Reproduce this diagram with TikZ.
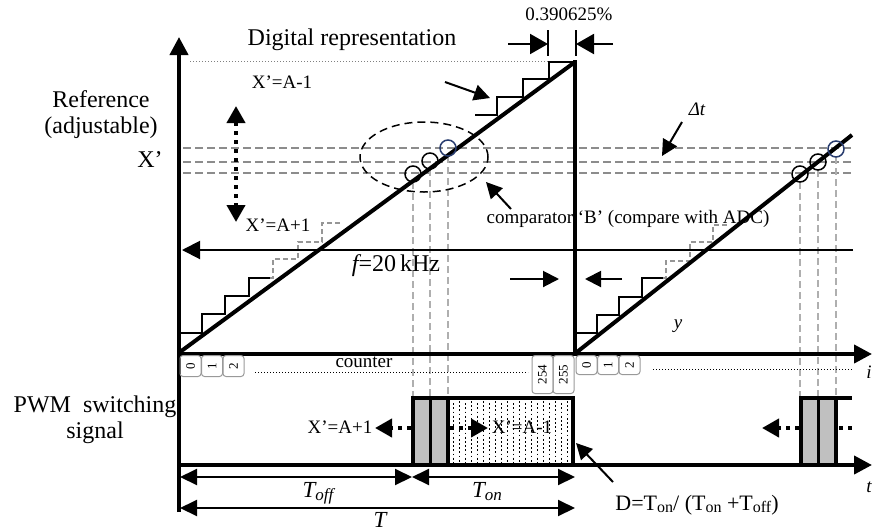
\documentclass[tikz,border=0pt]{standalone}
\usepackage{fontspec}
\setmainfont{Liberation Serif}
\usetikzlibrary{arrows.meta}
\definecolor{guidegray}{RGB}{140,140,140}
\definecolor{vgray}{RGB}{175,175,175}
\definecolor{stairgray}{RGB}{150,150,150}
\definecolor{circblue}{RGB}{40,60,110}
\definecolor{barfill}{RGB}{192,192,192}
\begin{document}
\begin{tikzpicture}[x=1pt,y=-1pt,
  axisline/.style={line width=4pt},
  rampline/.style={line width=4pt},
  stairline/.style={line width=2pt},
  ghoststair/.style={line width=1.5pt, stairgray, dash pattern=on 5pt off 3pt},
  xguide/.style={line width=1.5pt, guidegray, dash pattern=on 8pt off 4pt},
  vguide/.style={line width=1.2pt, vgray, dash pattern=on 7pt off 4pt},
  bigtip/.style={-{Triangle[length=18pt,width=18pt]}},
  midtip/.style={-{Triangle[length=16pt,width=16pt]}},
  twotip/.style={{Triangle[length=17pt,width=16pt]}-{Triangle[length=17pt,width=16pt]}},
  dotarrow/.style={line width=4pt, dash pattern=on 4pt off 5pt},
  ring/.style={line width=1.5pt},
  lbl/.style={inner sep=0pt, anchor=base, font=\fontsize{19}{22}\selectfont},
  biglbl/.style={inner sep=0pt, anchor=base, font=\fontsize{24}{28}\selectfont},
  cbox/.style={draw=gray!80, line width=1pt, rounded corners=3pt, inner sep=0pt,
    rotate=90, anchor=east, font=\fontsize{13}{13}\selectfont, minimum height=21pt}
]
\useasboundingbox (0,0) rectangle (873,531);

% ---------- PWM pulse fills ----------
\fill[barfill] (413,398) rectangle (430,465);
\fill[barfill] (430,398) rectangle (448,465);
\foreach \xx [count=\i] in {453,459,...,570}
  \draw[line width=0.6pt, dash pattern=on 1.8pt off 2.4pt, dash phase={mod(\i,2)*2.1pt}] (\xx,401) -- (\xx,462);
\fill[barfill] (801,398) rectangle (818,465);
\fill[barfill] (818,398) rectangle (836,465);

% ---------- X' guide lines ----------
\foreach \yy in {148,162,173}
  \draw[xguide] (183,\yy) -- (853,\yy);

% ---------- vertical guides ----------
\foreach \xx/\yy in {413/174,430/161,448/148,800/174,818/162,836/149}
  \draw[vguide] (\xx,\yy+8) -- (\xx,398);

% ---------- top dotted line ----------
\draw[line width=1pt, gray, dash pattern=on 1.2pt off 1.8pt] (190,61) -- (548,61);

% ---------- staircases ----------
\draw[stairline] (180,333) -- (202,333) -- (202,314) -- (225,314) -- (225,296) -- (249,296) -- (249,278) -- (270,278);
\draw[ghoststair] (270,278) -- (273,278) -- (273,259) -- (298,259) -- (298,242) -- (322,242) -- (322,223) -- (342,223);
\draw[stairline] (475,115) -- (497,115) -- (497,97) -- (523,97) -- (523,79) -- (549,79) -- (549,62) -- (575,62);
\draw[stairline] (577,333) -- (597,333) -- (597,315) -- (619,315) -- (619,297) -- (642,297) -- (642,278) -- (663,278);
\draw[ghoststair] (663,278) -- (666,278) -- (666,261) -- (690,261) -- (690,242) -- (713,242) -- (713,225) -- (727,225);

% ---------- ramps ----------
\coordinate (r1a) at (180,352);
\coordinate (r1b) at (575,62);
\coordinate (r1c) at (575,354);
\coordinate (r2a) at (577,352);
\coordinate (r2b) at (852,135);
\draw[rampline] (r1a) -- (r1b);
\draw[axisline] (575,60) -- (r1c);
\draw[rampline] (r2a) -- (r2b);

% ---------- comparator circles ----------
\draw[ring] (413,174) circle[radius=8pt];
\draw[ring] (430,161) circle[radius=8pt];
\draw[ring, circblue] (448,148) circle[radius=8pt];
\draw[ring] (800,174) circle[radius=8pt];
\draw[ring] (818,162) circle[radius=8pt];
\draw[ring, circblue] (836,149) circle[radius=8pt];
\draw[line width=1.5pt, dash pattern=on 8pt off 5pt] (424,157) ellipse [x radius=64pt, y radius=35pt];

% ---------- axes ----------
\coordinate (vbot) at (179,512);
\coordinate (vtop) at (179,37);
\coordinate (cstart) at (177,354);
\coordinate (cend) at (872,354);
\coordinate (pstart) at (177,465);
\coordinate (pend) at (872,465);
\draw[axisline, bigtip] (vbot) -- (vtop);
\draw[axisline, bigtip] (cstart) -- (cend);
\draw[axisline, bigtip] (pstart) -- (pend);

% ---------- frequency line ----------
\coordinate (fR) at (853,250);
\coordinate (fL) at (182,250);
\draw[line width=2pt, bigtip] (fR) -- (fL);
\coordinate (g1a) at (510,279); \coordinate (g1b) at (559,279);
\coordinate (g2a) at (622,279); \coordinate (g2b) at (585,279);
\draw[line width=2pt, midtip] (g1a) -- (g1b);
\draw[line width=2pt, midtip] (g2a) -- (g2b);

% ---------- top dimension ----------
\draw[line width=1.5pt] (548,30) -- (548,56);
\draw[line width=1.5pt] (576,30) -- (576,56);
\coordinate (d1a) at (508,44); \coordinate (d1b) at (548,44);
\coordinate (d2a) at (613,44); \coordinate (d2b) at (576,44);
\draw[line width=2pt, -{Triangle[length=18pt,width=20pt]}] (d1a) -- (d1b);
\draw[line width=2pt, -{Triangle[length=18pt,width=20pt]}] (d2a) -- (d2b);

% ---------- pointer arrows ----------
\coordinate (st1) at (445,82); \coordinate (st2) at (490,98);
\draw[line width=2pt, midtip] (st1) -- (st2);
\coordinate (dt1) at (682,122); \coordinate (dt2) at (662,156);
\draw[line width=2pt, midtip] (dt1) -- (dt2);
\coordinate (cp1) at (511,209); \coordinate (cp2) at (486,182);
\draw[line width=2pt, midtip] (cp1) -- (cp2);
\coordinate (da1) at (236,106); \coordinate (da2) at (236,222);
\draw[dotarrow, {Triangle[length=17pt,width=18pt]}-{Triangle[length=17pt,width=18pt]}] (da1) -- (da2);

% ---------- PWM pulses ----------
\draw[line width=4pt] (413,465) -- (413,398) -- (573,398) -- (573,465);
\draw[line width=3pt] (430,398) -- (430,465);
\draw[line width=4pt] (448,398) -- (448,465);
\draw[line width=4pt] (801,465) -- (801,398) -- (852,398);
\draw[line width=3pt] (818,398) -- (818,465);
\draw[line width=4pt] (836,398) -- (836,465);
\coordinate (pa1) at (411,428); \coordinate (pa2) at (375,428);
\coordinate (pb1) at (450,428); \coordinate (pb2) at (488,428);
\coordinate (pc1) at (799,428); \coordinate (pc2) at (762,428);
\coordinate (pd1) at (839,428); \coordinate (pd2) at (852,428);
\draw[dotarrow, -{Triangle[length=17pt,width=18pt]}] (pa1) -- (pa2);
\draw[dotarrow, -{Triangle[length=17pt,width=18pt]}] (pb1) -- (pb2);
\draw[dotarrow, -{Triangle[length=17pt,width=18pt]}] (pc1) -- (pc2);
\draw[dotarrow] (pd1) -- (pd2);

% ---------- time arrows ----------
\coordinate (ta) at (180,477); \coordinate (tb) at (412,477); \coordinate (tc) at (575,477);
\coordinate (tta) at (180,508); \coordinate (ttb) at (575,508);
\draw[line width=2pt, twotip] (ta) -- (tb);
\draw[line width=2pt, twotip] (tb) -- (tc);
\draw[line width=2pt, twotip] (tta) -- (ttb);
\coordinate (Da1) at (613,482); \coordinate (Da2) at (576,443);
\draw[line width=2pt, midtip] (Da1) -- (Da2);

% ---------- counter ----------
\draw[line width=1pt, dash pattern=on 1.2pt off 1.8pt] (255,372) -- (528,372);
\draw[line width=1pt, dash pattern=on 1.2pt off 1.8pt] (653,369) -- (852,369);
\node[cbox, minimum width=21pt] (c0) at (190.5,355) {0};
\node[cbox, minimum width=21pt] (c1) at (212,355) {1};
\node[cbox, minimum width=21pt] (c2) at (233.5,355) {2};
\node[cbox, minimum width=38pt] (c254) at (542.5,355) {254};
\node[cbox, minimum width=38pt] (c255) at (563.5,355) {255};
\node[cbox, minimum width=19pt] (d0) at (586.5,355) {0};
\node[cbox, minimum width=19pt] (d1) at (608,355) {1};
\node[cbox, minimum width=19pt] (d2) at (629.5,355) {2};

% ---------- labels ----------
\node[biglbl] (title) at (352,45) {Digital representation};
\node[lbl] (pct) at (569,20) {0.390625\%};
\node[lbl] (xam1) at (282,88) {X’=A-1};
\node[biglbl] (ref1) at (101,107) {Reference};
\node[biglbl] (ref2) at (101,133) {(adjustable)};
\node[biglbl] (xp) at (150,167) {X’};
\node[lbl] (xap1) at (278,231) {X’=A+1};
\node[lbl] (comp) at (628,223) {comparator ‘B’ (compare with ADC)};
\node[lbl] (dtl) at (697,115) {\itshape Δt};
\node[biglbl] (freq) at (396,271) {\itshape f\upshape =20\,kHz};
\node[lbl] (ylbl) at (678,328) {\itshape y};
\node[lbl] (cntl) at (364,367) {counter};
\node[lbl] (ilbl) at (869,378) {\itshape i};
\node[lbl] (tlbl) at (869,492) {\itshape t};
\node[biglbl] (pwm1) at (95,412) {PWM\ \ switching};
\node[biglbl] (pwm2) at (95,438) {signal};
\node[lbl] (pxa) at (340,433) {X’=A+1};
\node[lbl] (pxb) at (522,433) {X’=A-1};
\node[inner sep=0pt, anchor=base, font=\fontsize{23}{26}\selectfont\itshape] (toff) at (318,497) {T\raisebox{-3pt}{\fontsize{17}{17}\selectfont off}};
\node[inner sep=0pt, anchor=base, font=\fontsize{23}{26}\selectfont\itshape] (ton) at (487,497) {T\raisebox{-3pt}{\fontsize{17}{17}\selectfont on}};
\node[inner sep=0pt, anchor=base, font=\fontsize{23}{26}\selectfont\itshape] (tper) at (380,527) {T};
\node[inner sep=0pt, anchor=base, font=\fontsize{22}{26}\selectfont] (duty) at (697,510)
  {D=T\raisebox{-2pt}{\fontsize{16}{16}\selectfont on}/ (T\raisebox{-2pt}{\fontsize{16}{16}\selectfont on} +T\raisebox{-2pt}{\fontsize{16}{16}\selectfont off})};
\end{tikzpicture}
\end{document}
